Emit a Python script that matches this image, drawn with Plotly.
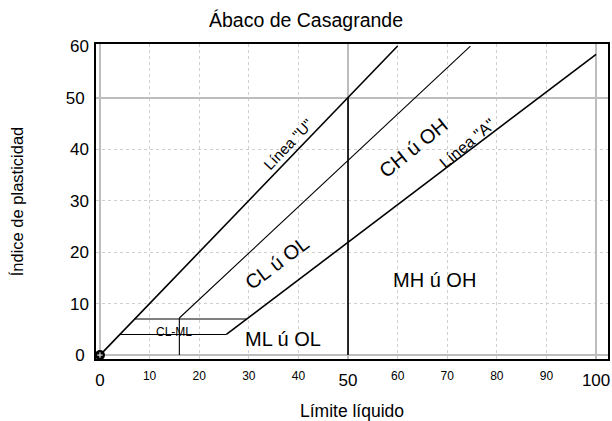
import plotly.graph_objects as go

# ---- data ----
ll_range = [-0.8, 102.4]
pi_range = [-0.76, 60.4]

x_major_ticks = [0, 50, 100]
x_minor_ticks = [10, 20, 30, 40, 60, 70, 80, 90]
y_major_ticks = [0, 50]
y_minor_ticks = [10, 20, 30, 40]
y_other_labels = [10, 20, 30, 40, 60]

line1_ll = [0, 60]          # line drawn from origin, labelled "Línea "U""
line1_pi = [0, 60]
uline_ll = [16, 74.67]      # PI = 0.9 (LL - 8)
uline_pi = [7.2, 60]
aline_ll = [25.48, 100]     # PI = 0.73 (LL - 20)
aline_pi = [4, 58.4]
h7_ll = [7, 29.59]
h7_pi = [7, 7]
h4_ll = [4, 25.48]
h4_pi = [4, 4]
v16_ll = [16, 16]
v16_pi = [0, 7.2]
v50_ll = [50, 50]
v50_pi = [0, 50]
origin_ll = [0]
origin_pi = [0]

zone_text = ["Línea \"U\"", "CH ú OH", "Línea \"A\"", "CL ú OL", "MH ú OH", "ML ú OL", "CL-ML"]
zone_ll = [37.9, 63.1, 74.0, 35.6, 67.4, 36.9, 14.9]
zone_pi = [40.8, 40.2, 41.1, 17.9, 14.5, 3.1, 4.45]

# ---- styles ----
FONT = "Liberation Sans, Arial, sans-serif"
zone_angle = [-46.5, -39, -40, -37, 0, 0, 0]
zone_size = [15, 20, 16, 20, 20, 20, 12]

fig = go.Figure()

def seg(x, y, w):
    fig.add_trace(go.Scatter(x=x, y=y, mode="lines", line=dict(color="black", width=w),
                             hoverinfo="skip", showlegend=False))

seg(line1_ll, line1_pi, 1.6)
seg(uline_ll, uline_pi, 1.1)
seg(aline_ll, aline_pi, 1.6)
seg(h7_ll, h7_pi, 1.1)
seg(h4_ll, h4_pi, 1.1)
seg(v16_ll, v16_pi, 1.1)
seg(v50_ll, v50_pi, 1.6)

fig.add_trace(go.Scatter(x=origin_ll, y=origin_pi, mode="markers",
                         marker=dict(color="black", size=10, symbol="circle"),
                         cliponaxis=False, hoverinfo="skip", showlegend=False))
fig.add_trace(go.Scatter(x=origin_ll, y=origin_pi, mode="markers",
                         marker=dict(color="white", size=4, symbol="cross-thin",
                                     line=dict(color="white", width=1)),
                         cliponaxis=False, hoverinfo="skip", showlegend=False))

# dummy trace for overlay axes carrying the secondary tick labels
fig.add_trace(go.Scatter(x=[None], y=[None], xaxis="x2", yaxis="y2",
                         hoverinfo="skip", showlegend=False))

for t, x, y, a, s in zip(zone_text, zone_ll, zone_pi, zone_angle, zone_size):
    fig.add_annotation(x=x, y=y, xref="x", yref="y", text=t, showarrow=False,
                       textangle=a, font=dict(family=FONT, size=s, color="black"))

grid_major = "#bdbdbd"
grid_minor = "#cfcfcf"

fig.update_layout(
    width=612, height=421,
    margin=dict(l=96, r=2, t=44, b=58),
    paper_bgcolor="white", plot_bgcolor="white",
    showlegend=False,
    font=dict(family=FONT, color="black"),
    title=dict(text="Ábaco de Casagrande", x=0.5, xref="container", xanchor="center",
               y=1 - 20 / 421, yref="container", yanchor="middle",
               font=dict(family=FONT, size=19.5, color="black")),
    xaxis=dict(range=ll_range, tickmode="array", tickvals=x_major_ticks,
               tickfont=dict(size=17), ticks="", showgrid=True, gridcolor=grid_major,
               gridwidth=2, zeroline=False, showline=True, linecolor="black",
               linewidth=2, mirror=True, ticklabelstandoff=5,
               minor=dict(tickmode="array", tickvals=x_minor_ticks, showgrid=True,
                          gridcolor=grid_minor, gridwidth=1, griddash="3px,3px", ticks=""),
               title=dict(text="Límite líquido", font=dict(size=17.5), standoff=16)),
    yaxis=dict(range=pi_range, tickmode="array", tickvals=y_major_ticks,
               tickfont=dict(size=17), ticks="", showgrid=True, gridcolor=grid_major,
               gridwidth=2, zeroline=False, showline=True, linecolor="black",
               linewidth=2, mirror=True, ticklabelstandoff=6,
               minor=dict(tickmode="array", tickvals=y_minor_ticks, showgrid=True,
                          gridcolor=grid_minor, gridwidth=1, griddash="3px,3px", ticks=""),
               title=dict(text="Índice de plasticidad", font=dict(size=16.5), standoff=38)),
    xaxis2=dict(range=ll_range, overlaying="x", anchor="y2", side="bottom",
                tickmode="array", tickvals=x_minor_ticks, tickfont=dict(size=12),
                ticks="", showgrid=False, zeroline=False, showline=False,
                ticklabelstandoff=8),
    yaxis2=dict(range=pi_range, overlaying="y", anchor="x2", side="left",
                tickmode="array", tickvals=y_other_labels, tickfont=dict(size=17),
                ticks="", showgrid=False, zeroline=False, showline=False,
                ticklabelstandoff=6),
)

fig.write_html("out.html", config={"displayModeBar": False},
               post_script="document.body.style.margin='0';")
